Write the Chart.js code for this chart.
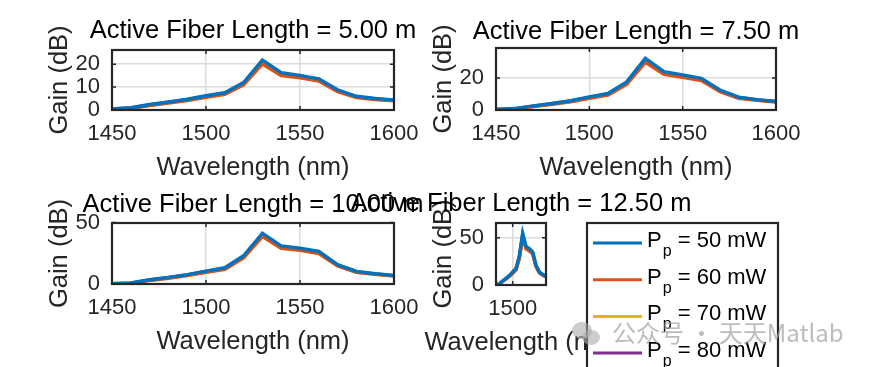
<!DOCTYPE html>
<html>
<head>
<meta charset="utf-8">
<script src="https://cdn.jsdelivr.net/npm/chart.js@4.4.0/dist/chart.umd.min.js"></script>
<style>
  html, body { margin: 0; padding: 0; background: #fff; }
  #fig { position: relative; width: 870px; height: 367px; overflow: hidden; background: #fff; }
  #fig canvas { position: absolute; left: 0; top: 0; }
  #wm { position: absolute; left: 572px; top: 317px; height: 30px; white-space: nowrap;
        font-family: "Noto Sans CJK SC", sans-serif; font-size: 24px; line-height: 30px;
        color: rgba(160,160,160,0.7); pointer-events: none; }
  #wm .b1, #wm .b2 { position: absolute; border-radius: 50%; background: rgba(170,170,170,0.6); }
  #wm .b1 { left: 0; top: 5px; width: 20px; height: 17px; }
  #wm .b2 { left: 10px; top: 13px; width: 18px; height: 15px; }
  #wm .t { position: absolute; left: 40px; top: 0; }
</style>
</head>
<body>
<div id="fig">
  <canvas id="c1" width="870" height="367"></canvas>
  <canvas id="c2" width="870" height="367"></canvas>
  <canvas id="c3" width="870" height="367"></canvas>
  <canvas id="c4" width="870" height="367"></canvas>
  <div id="wm"><span class="b1"></span><span class="b2"></span><span class="t">公众号 · 天天Matlab</span></div>
</div>
<script>
// x values (nm)
const wavelength = [1450, 1460, 1470, 1480, 1490, 1500, 1510, 1520, 1530, 1540, 1550, 1560, 1570, 1580, 1590, 1600];

const pumpLabels = ["50 mW", "60 mW", "70 mW", "80 mW"];
const lineColors = ["#0072BD", "#D95319", "#EDB120", "#7E2F8E"];
const fiberLengths = ["5.00", "7.50", "10.00", "12.50"];

// gain (dB) per pump power, one array of series per fiber length
const gain5m = [
  [0.5, 1.0, 2.4, 3.5, 4.7, 6.2, 7.5, 12.0, 21.8, 16.3, 15.1, 13.6, 8.8, 6.0, 5.0, 4.4],
  [0.3, 0.7, 1.9, 3.0, 4.1, 5.5, 6.8, 11.0, 20.0, 15.0, 14.0, 12.6, 8.0, 5.4, 4.5, 4.0],
  [0.4, 0.8, 2.1, 3.2, 4.3, 5.8, 7.1, 11.4, 20.7, 15.5, 14.4, 13.0, 8.3, 5.6, 4.7, 4.2],
  [0.45, 0.9, 2.2, 3.3, 4.5, 6.0, 7.3, 11.7, 21.2, 15.9, 14.7, 13.3, 8.5, 5.8, 4.8, 4.3]
];
const gain7m = [
  [0.4, 0.9, 2.6, 4.1, 5.8, 8.2, 10.3, 17.6, 32.3, 24.0, 22.0, 19.8, 12.5, 8.0, 6.5, 5.4],
  [0.3, 0.6, 2.1, 3.5, 5.1, 7.3, 9.3, 16.0, 29.8, 22.2, 20.5, 18.4, 11.5, 7.3, 6.0, 5.0],
  [0.35, 0.7, 2.3, 3.7, 5.4, 7.6, 9.7, 16.6, 30.6, 22.8, 21.0, 18.9, 11.8, 7.6, 6.2, 5.1],
  [0.4, 0.8, 2.4, 3.9, 5.6, 7.9, 10.0, 17.1, 31.5, 23.4, 21.5, 19.3, 12.2, 7.8, 6.3, 5.3]
];
const gain10m = [
  [0.3, 0.8, 3.5, 5.4, 7.6, 10.5, 13.2, 23.0, 41.4, 31.0, 29.2, 26.5, 15.7, 10.3, 8.4, 7.0],
  [0.2, 0.5, 2.9, 4.7, 6.8, 9.5, 12.0, 21.2, 38.6, 29.0, 27.4, 24.8, 14.6, 9.5, 7.8, 6.5],
  [0.25, 0.6, 3.1, 5.0, 7.1, 9.8, 12.4, 21.8, 39.5, 29.6, 28.0, 25.4, 15.0, 9.8, 8.0, 6.7],
  [0.3, 0.7, 3.3, 5.2, 7.4, 10.2, 12.8, 22.4, 40.4, 30.3, 28.6, 25.9, 15.3, 10.0, 8.2, 6.8]
];
const gain12m = [
  [0.4, 1.2, 4.5, 7.0, 10.0, 13.8, 17.5, 30.5, 54.7, 41.0, 38.5, 35.0, 21.0, 13.8, 11.2, 9.4],
  [0.3, 0.8, 3.8, 6.1, 8.9, 12.5, 15.9, 28.0, 51.0, 38.2, 36.0, 32.7, 19.5, 12.8, 10.4, 8.7],
  [0.35, 0.9, 4.0, 6.4, 9.3, 12.9, 16.4, 28.8, 52.2, 39.1, 36.8, 33.5, 20.0, 13.1, 10.7, 8.9],
  [0.4, 1.0, 4.2, 6.7, 9.6, 13.3, 16.9, 29.6, 53.4, 40.0, 37.6, 34.2, 20.5, 13.4, 10.9, 9.1]
];

// tick labels
const xTicksWide = [1450, 1500, 1550, 1600];
const xTicksNarrow = [1500];
const yTicks5m = [0, 10, 20];
const yTicks7m = [0, 20];
const yTicks10m = [0, 50];
const yTicks12m = [0, 50];

// axes boxes in page pixels + title baseline
const panels = [
  { id: "c1", gain: gain5m, yTicks: yTicks5m, xTicks: xTicksWide, l: 112, t: 50, r: 394, b: 110, tb: 38 },
  { id: "c2", gain: gain7m, yTicks: yTicks7m, xTicks: xTicksWide, l: 496, t: 48, r: 776, b: 110, tb: 39 },
  { id: "c3", gain: gain10m, yTicks: yTicks10m, xTicks: xTicksWide, l: 112, t: 223, r: 394, b: 284, tb: 212 },
  { id: "c4", gain: gain12m, yTicks: yTicks12m, xTicks: xTicksNarrow, l: 496, t: 223, r: 546, b: 285, tb: 211 }
];

const FONT = '"Liberation Sans", Arial, Helvetica, sans-serif';
const tickFont = { family: FONT, size: 22 };
const labelFont = { family: FONT, size: 25.5 };
const YW = 72, XH = 73;
const axisColor = "#262626";

function framePlugin(titleText, titleBase, ownXTitle) {
  return {
    id: "frame",
    afterDatasetsDraw(chart) {
      const { ctx, chartArea: a, scales } = chart;
      ctx.save();
      ctx.strokeStyle = axisColor;
      ctx.lineWidth = 1.5;
      ctx.beginPath();
      scales.x.ticks.forEach(t => {
        const px = scales.x.getPixelForValue(t.value);
        ctx.moveTo(px, a.bottom); ctx.lineTo(px, a.bottom - 4);
        ctx.moveTo(px, a.top); ctx.lineTo(px, a.top + 4);
      });
      scales.y.ticks.forEach(t => {
        const py = scales.y.getPixelForValue(t.value);
        ctx.moveTo(a.left, py); ctx.lineTo(a.left + 4, py);
        ctx.moveTo(a.right, py); ctx.lineTo(a.right - 4, py);
      });
      ctx.stroke();
      ctx.lineWidth = 2.2;
      ctx.strokeRect(a.left, a.top, a.right - a.left, a.bottom - a.top);
      ctx.restore();
    },
    afterDraw(chart) {
      const { ctx, chartArea: a } = chart;
      ctx.save();
      ctx.fillStyle = "#000";
      ctx.font = "25.5px " + FONT;
      ctx.textAlign = "center";
      ctx.textBaseline = "alphabetic";
      ctx.fillText(titleText, (a.left + a.right) / 2, titleBase);
      if (ownXTitle) {
        // narrow axes: chart.js would squeeze the title, draw it unclipped
        ctx.fillStyle = axisColor;
        ctx.textBaseline = "middle";
        ctx.fillText("Wavelength (nm)", (a.left + a.right) / 2, a.bottom + XH - 0.6 * 25.5);
      }
      ctx.restore();
    }
  };
}

const legendPlugin = {
  id: "pumpLegend",
  afterDraw(chart) {
    const ctx = chart.ctx;
    const bx = 587, by = 223, bw = 191;
    ctx.save();
    ctx.fillStyle = "#fff";
    ctx.fillRect(bx, by, bw, 200);
    ctx.strokeStyle = axisColor;
    ctx.lineWidth = 2.2;
    ctx.strokeRect(bx, by, bw, 200);
    pumpLabels.forEach((lab, i) => {
      const y = 243 + i * 36.7;
      ctx.strokeStyle = lineColors[i];
      ctx.lineWidth = 3;
      ctx.beginPath();
      ctx.moveTo(593, y); ctx.lineTo(642, y);
      ctx.stroke();
      ctx.fillStyle = "#000";
      ctx.textBaseline = "alphabetic";
      ctx.textAlign = "left";
      ctx.font = "22px " + FONT;
      ctx.fillText("P", 647, y + 4);
      const pw = ctx.measureText("P").width;
      ctx.font = "16px " + FONT;
      ctx.fillText("p", 647 + pw + 1, y + 13);
      const sw = ctx.measureText("p").width;
      ctx.font = "22px " + FONT;
      ctx.fillText(" = " + lab, 647 + pw + sw + 1, y + 4);
    });
    ctx.restore();
  }
};

panels.forEach((p, idx) => {
  const yMax = 1.2 * Math.max(...p.gain[0]);
  const narrow = idx === 3;
  const datasets = p.gain.map((vals, i) => ({
    label: "P_p = " + pumpLabels[i],
    data: wavelength.map((w, k) => ({ x: w, y: vals[k] })),
    borderColor: lineColors[i],
    borderWidth: 3.4,
    pointRadius: 0,
    tension: 0,
    fill: false
  }));
  const extra = narrow ? [legendPlugin] : [];
  new Chart(document.getElementById(p.id), {
    type: "line",
    data: { datasets },
    options: {
      responsive: false,
      animation: false,
      devicePixelRatio: 1,
      events: [],
      layout: {
        autoPadding: false,
        padding: { left: p.l - YW, top: p.t, right: 870 - p.r, bottom: 367 - p.b - XH }
      },
      plugins: { legend: { display: false }, tooltip: { enabled: false }, title: { display: false } },
      scales: {
        x: {
          type: "linear", min: 1450, max: 1600,
          afterBuildTicks: s => { s.ticks = p.xTicks.map(v => ({ value: v })); },
          afterFit: s => { s.height = XH; },
          ticks: { callback: v => String(v), font: tickFont, color: axisColor, padding: 11, maxRotation: 0, autoSkip: false },
          grid: { color: "#dcdcdc", lineWidth: 1.5, drawTicks: false },
          border: { display: false },
          title: { display: !narrow, text: "Wavelength (nm)", font: labelFont, color: axisColor, padding: 0 }
        },
        y: {
          min: 0, max: yMax,
          afterBuildTicks: s => { s.ticks = p.yTicks.map(v => ({ value: v })); },
          afterFit: s => { s.width = YW; },
          ticks: { callback: v => String(v), font: tickFont, color: axisColor, padding: 12, autoSkip: false },
          grid: { color: "#dcdcdc", lineWidth: 1.5, drawTicks: false },
          border: { display: false },
          title: { display: true, text: "Gain (dB)", font: labelFont, color: axisColor, padding: { top: 5, bottom: 0 } }
        }
      }
    },
    plugins: [framePlugin("Active Fiber Length = " + fiberLengths[idx] + " m", p.tb, narrow), ...extra]
  });
});
</script>
</body>
</html>
